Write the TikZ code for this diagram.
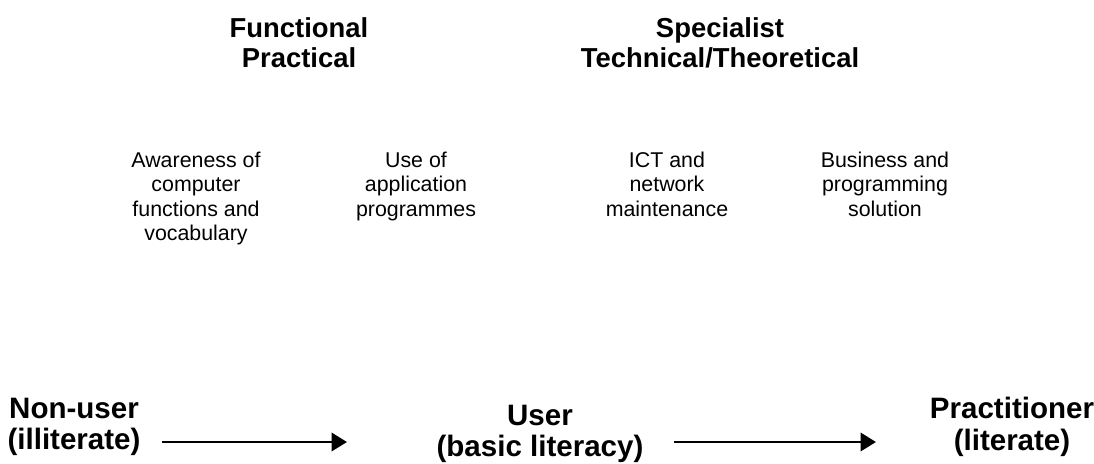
\documentclass[tikz,border=0pt]{standalone}
\usepackage{fontspec}
\setmainfont{Liberation Sans}
\usetikzlibrary{arrows.meta}

\begin{document}
\begin{tikzpicture}[x=0.025cm,y=-0.025cm,
    head/.style={align=center,font=\fontsize{19.5}{21.5}\selectfont\bfseries},
    item/.style={align=center,anchor=north,font=\fontsize{15.2}{17.4}\selectfont},
    level/.style={align=center,font=\fontsize{21}{22.5}\selectfont\bfseries},
    progress/.style={line width=2pt,-{Triangle[length=11pt,width=13pt]}}]
    \useasboundingbox (0,0) rectangle (1094,463);
    % Headings
    \node[head] (functional) at (299,43) {Functional\\Practical};
    \node[head] (specialist) at (720,43) {Specialist\\Technical/Theoretical};
    % Skill areas
    \node[item] (awareness) at (196,147) {Awareness of\\computer\\functions and\\vocabulary};
    \node[item] (use) at (416,147) {Use of\\application\\programmes};
    \node[item] (ict) at (667,147) {ICT and\\network\\maintenance};
    \node[item] (business) at (885,147) {Business and\\programming\\solution};
    % Levels
    \node[level] (nonuser) at (74,427) {Non-user\\(illiterate)};
    \node[level] (user) at (540,434) {User\\(basic literacy)};
    \node[level] (practitioner) at (1012,427) {Practitioner\\(literate)};
    % Arrows between levels
    \coordinate (a1) at (162,442);
    \coordinate (b1) at (347,442);
    \coordinate (a2) at (674,442);
    \coordinate (b2) at (876,442);
    \draw[progress] (a1) -- (b1);
    \draw[progress] (a2) -- (b2);
\end{tikzpicture}
\end{document}
